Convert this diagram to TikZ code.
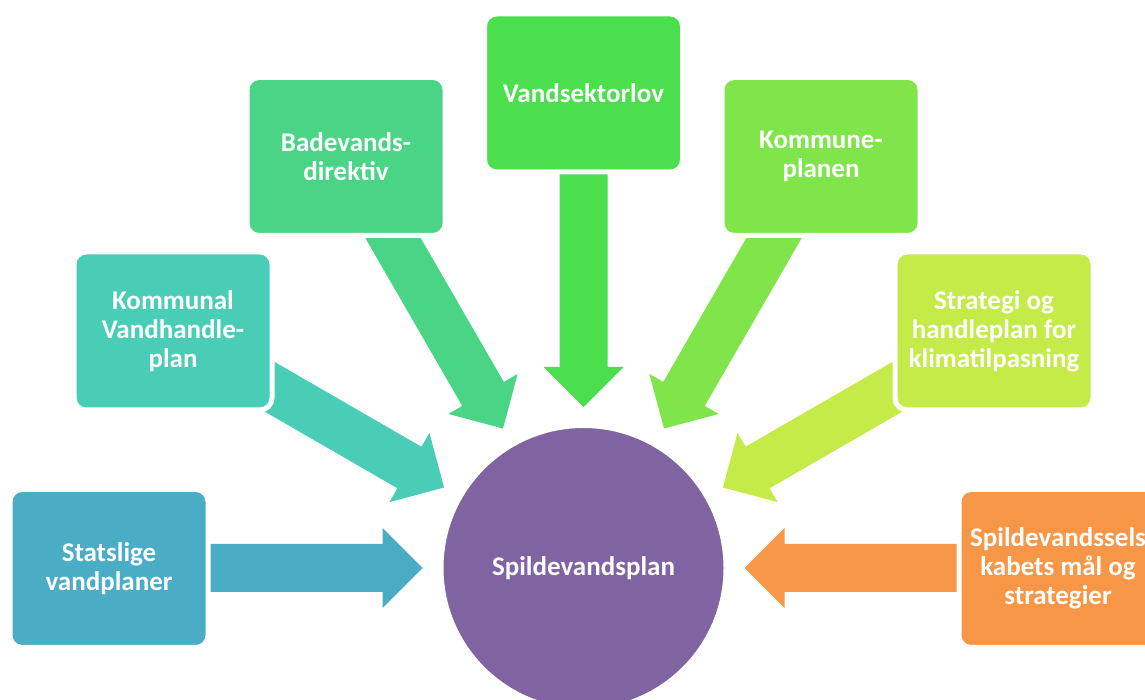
\documentclass[tikz,border=0pt]{standalone}
\usepackage{fontspec}
\setmainfont{Carlito}
\definecolor{cA}{HTML}{4BACC6}
\definecolor{cB}{HTML}{4ACDB6}
\definecolor{cC}{HTML}{4AD586}
\definecolor{cD}{HTML}{4BDF4D}
\definecolor{cE}{HTML}{80E54A}
\definecolor{cF}{HTML}{C4EB48}
\definecolor{cG}{HTML}{F79646}
\definecolor{cP}{HTML}{8064A2}
\begin{document}
\begin{tikzpicture}[x=1pt,y=1pt,
  box/.style={fill=#1, rounded corners=12pt, minimum width=198pt, minimum height=158pt,
    draw=white, line width=5pt, inner sep=0pt, align=center, text=white,
    font=\bfseries\fontsize{27}{29}\selectfont},
  hub/.style={circle, fill=cP, draw=white, line width=5pt, minimum size=285pt, inner sep=0pt,
    text=white, font=\bfseries\fontsize{27}{29}\selectfont},
  blockarrow/.style={fill=#1, draw=none}]
\useasboundingbox (0,0) rectangle (1145,700);
\coordinate (c) at (583.5,132);
% block arrows (radial, pointing to the hub)
\foreach \ang/\col in {180/cA,150/cB,120/cC,90/cD,60/cE,30/cF,0/cG}{
  \begin{scope}[shift={(c)}, rotate=\ang]
    \fill[blockarrow=\col] (161,0) -- (201,40) -- (201,24) -- (420,24) -- (420,-24)
      -- (201,-24) -- (201,-40) -- cycle;
  \end{scope}
}
% boxes
\node[box=cA] (stat) at (109,131.5) {Statslige\\vandplaner};
\node[box=cB] (komv) at (173,369) {Kommunal\\Vandhandle-\\plan};
\node[box=cC] (bade) at (346,543.5) {Badevands-\\direktiv};
\node[box=cD] (vand) at (583.5,607) {Vandsektorlov};
\node[box=cE] (komp) at (821,543.5) {Kommune-\\planen};
\node[box=cF] (stra) at (994,369) {Strategi og\\handleplan for\\klimatilpasning};
\node[box=cG] (spil) at (1058,131.5) {Spildevandssels\\kabets mål og\\strategier};
% hub
\node[hub] (sp) at (c) {Spildevandsplan};
\end{tikzpicture}
\end{document}
